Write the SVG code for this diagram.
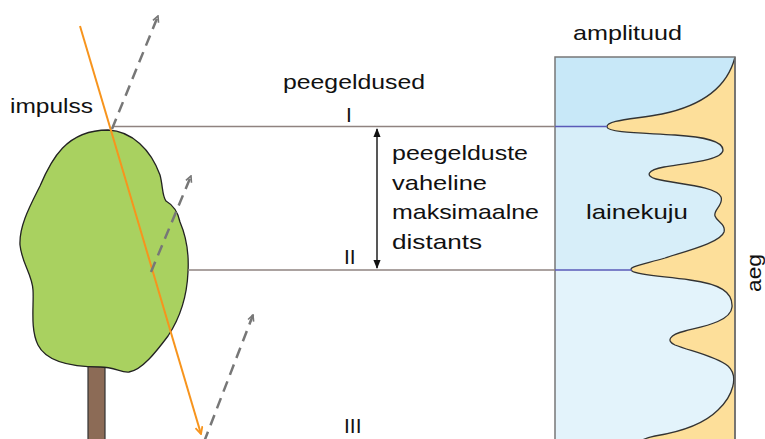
<svg xmlns="http://www.w3.org/2000/svg" width="765" height="439" viewBox="0 0 765 439">
  <style>
    text { font-family: "Liberation Sans", Arial, sans-serif; font-size: 21px; fill: #111; }
    .lvl { stroke: #8f8380; stroke-width: 1.5; fill: none; }
    .lvlb { stroke: #5a5ab8; stroke-width: 1.5; fill: none; }
    .echo { stroke: #777; stroke-width: 2.5; stroke-dasharray: 11 7; fill: none; }
    .pulse { stroke: #f7941d; stroke-width: 2; fill: none; }
  </style>
  <defs>
    <marker id="chev" viewBox="0 0 8 8" refX="7" refY="4" markerWidth="8" markerHeight="8" markerUnits="userSpaceOnUse" orient="auto">
      <path d="M1,1 L7,4 L1,7" fill="none" stroke="#777" stroke-width="1.6"/>
    </marker>
    <marker id="orangeHead" viewBox="0 0 10 10" refX="9" refY="5" markerWidth="9" markerHeight="9" markerUnits="userSpaceOnUse" orient="auto">
      <path d="M1,1 L9,5 L1,9" fill="none" stroke="#f7941d" stroke-width="2"/>
    </marker>
    <marker id="blk" viewBox="0 0 10 10" refX="9" refY="5" markerWidth="9" markerHeight="9" markerUnits="userSpaceOnUse" orient="auto">
      <path d="M0,1 L10,5 L0,9 Z" fill="#111"/>
    </marker>
  </defs>

  <!-- tree -->
  <g id="tree">
    <rect x="88" y="362" width="17" height="85" fill="#8c6b56" stroke="#333" stroke-width="1.2"/>
    <path d="M108,130 C132,131 151,150 160,175 C163,186 162,196 166,201 C173,205 178,212 180,222 C186,236 189,255 188,272 C187,296 180,318 168,336 C156,352 142,370 129,372 C121,373 115,367 100,367 C74,367 47,363 38,345 C30,329 34,305 33,290 C32,274 22,264 20,245 C19,226 30,206 40,186 C51,160 66,130 108,130 Z" fill="#a9d160" stroke="#222" stroke-width="1.3"/>
  </g>

  <!-- waveform panel -->
  <g id="panel">
    <rect x="555" y="57" width="180" height="70" fill="#c8e8f8"/>
    <rect x="555" y="127" width="180" height="143" fill="#d7eef9"/>
    <rect x="555" y="270" width="180" height="175" fill="#e3f3fb"/>
    <path d="M735,57 C728,85 705,105 662,114 C636,119 606,120 607,127 C608,133 645,133 675,135 C705,137 723,141 723,150 C723,160 688,163 664,167 C647,170 645,176 656,179 C676,184 716,186 721,197 C724,205 713,210 715,216 C717,222 726,224 724,232 C721,242 690,250 665,258 C641,265 627,267 632,271 C637,275 660,276 690,280 C720,284 733,292 732,307 C731,322 700,327 685,331 C669,335 666,341 675,345 C690,351 716,356 728,366 C739,376 733,396 718,410 C704,424 680,432 655,436 C645,438 638,441 636,446 L735,446 Z" fill="#fddf9a" stroke="#333" stroke-width="1.3"/>
    <rect x="555" y="57" width="180" height="390" fill="none" stroke="#777" stroke-width="1.5"/>
  </g>

  <!-- connectors -->
  <g id="connectors">
    <line class="lvl" x1="112" y1="126.5" x2="555" y2="126.5"/>
    <line class="lvlb" x1="555" y1="126.5" x2="607" y2="126.5"/>
    <line class="lvl" x1="188" y1="270" x2="555" y2="270"/>
    <line class="lvlb" x1="555" y1="270" x2="632" y2="270"/>
    <line class="pulse" x1="80" y1="26" x2="201" y2="434" marker-end="url(#orangeHead)"/>
    <line class="echo" x1="112" y1="129" x2="158" y2="16" marker-end="url(#chev)"/>
    <line class="echo" x1="151" y1="272" x2="191" y2="176" marker-end="url(#chev)"/>
    <line class="echo" x1="204" y1="442" x2="253" y2="315" marker-end="url(#chev)"/>
    <line x1="377" y1="198" x2="377" y2="129" stroke="#111" stroke-width="1.4" marker-end="url(#blk)"/>
    <line x1="377" y1="198" x2="377" y2="268" stroke="#111" stroke-width="1.4" marker-end="url(#blk)"/>
  </g>

  <!-- labels -->
  <g id="labels">
    <text x="10" y="113" textLength="83" lengthAdjust="spacingAndGlyphs">impulss</text>
    <text x="283" y="89" textLength="142" lengthAdjust="spacingAndGlyphs">peegeldused</text>
    <text x="573" y="40" textLength="109" lengthAdjust="spacingAndGlyphs">amplituud</text>
    <text x="346" y="122">I</text>
    <text x="344" y="264">II</text>
    <text x="344" y="433">III</text>
    <text x="392" y="160" textLength="136" lengthAdjust="spacingAndGlyphs">peegelduste</text>
    <text x="392" y="190" textLength="95" lengthAdjust="spacingAndGlyphs">vaheline</text>
    <text x="392" y="219" textLength="147" lengthAdjust="spacingAndGlyphs">maksimaalne</text>
    <text x="392" y="249" textLength="90" lengthAdjust="spacingAndGlyphs">distants</text>
    <text x="586" y="219" textLength="102" lengthAdjust="spacingAndGlyphs">lainekuju</text>
    <text transform="translate(761,273) rotate(-90)" text-anchor="middle" textLength="38" lengthAdjust="spacingAndGlyphs">aeg</text>
  </g>
</svg>
